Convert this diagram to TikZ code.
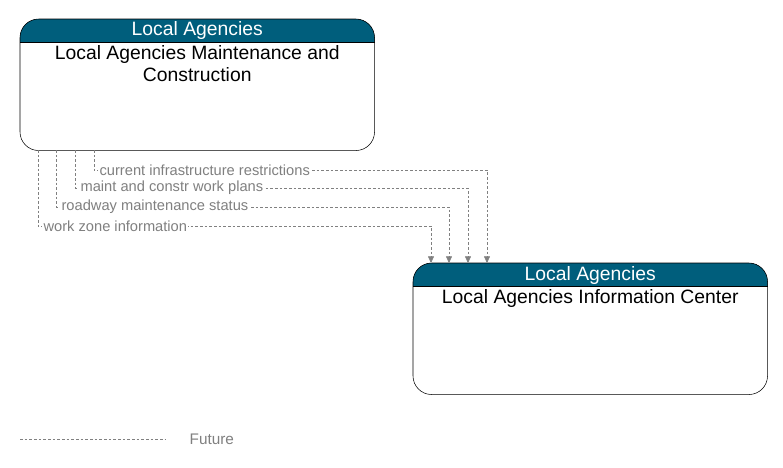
\documentclass[tikz,border=0pt]{standalone}
\usepackage{fontspec}
\setmainfont{Liberation Sans}
\usetikzlibrary{positioning,calc,arrows.meta}
\definecolor{hdr}{RGB}{0,94,124}
\definecolor{flow}{RGB}{128,128,128}
\tikzset{
  elem/.style={draw, rounded corners=14pt, minimum width=354*0.75pt, minimum height=131*0.75pt, inner sep=0pt},
  flowline/.style={flow, dash pattern=on 2pt off 1.5pt, -{Triangle[width=4.5pt,length=5pt]}},
  flowlabel/.style={fill=white, inner sep=1pt, text=flow, font=\fontsize{11}{13}\selectfont, anchor=west}
}
\begin{document}
\begin{tikzpicture}[x=0.75pt,y=-0.75pt]
    \useasboundingbox (0,0) rectangle (783,468);

    % Elements
    \node [elem, anchor=north west] (maint) at (20,19) {};
    \node [elem, anchor=north west] (info) at (413,263) {};
    \foreach \e/\title/\name in {maint/Local Agencies/{Local Agencies Maintenance and\\Construction}, info/Local Agencies/{Local Agencies Information Center}} {
        \fill [hdr, rounded corners=14pt] (\e.south west) -- (\e.north west) -- (\e.north east) -- (\e.south east) [sharp corners] -- cycle;
        \fill [white, sharp corners] ($(\e.north west)+(0,23)$) rectangle (\e.south east);
        \draw [rounded corners=14pt] (\e.north west) rectangle (\e.south east);
        \draw ($(\e.north west)+(0,23)$) -- ($(\e.north east)+(0,23)$);
        \node [white, font=\fontsize{14.5}{16}\selectfont] at ($(\e.north)+(0,12)$) {\title};
        \node [below=22*0.75pt of \e.north, anchor=north, align=center, font=\fontsize{14.5}{16.5}\selectfont] {\name};
    }

    % Flows
    \foreach \sx/\y/\ex/\lbl in {94/170/487/current infrastructure restrictions, 75/188/468/maint and constr work plans, 56/207/449/roadway maintenance status, 38/226/431/work zone information} {
        \coordinate (s) at (\sx,150);
        \coordinate (e) at (\ex,263);
        \draw [flowline] (s) |- (\ex,\y) -- (e);
        \node [flowlabel] at (\sx+4,\y) {\lbl};
    }

    % Legend
    \coordinate (l1) at (20,439);
    \coordinate (l2) at (165,439);
    \draw [flow, dash pattern=on 2pt off 1.5pt] (l1) -- (l2);
    \node [text=flow, font=\fontsize{11.5}{13}\selectfont, anchor=west] at (185,439) {Future};
\end{tikzpicture}
\end{document}
